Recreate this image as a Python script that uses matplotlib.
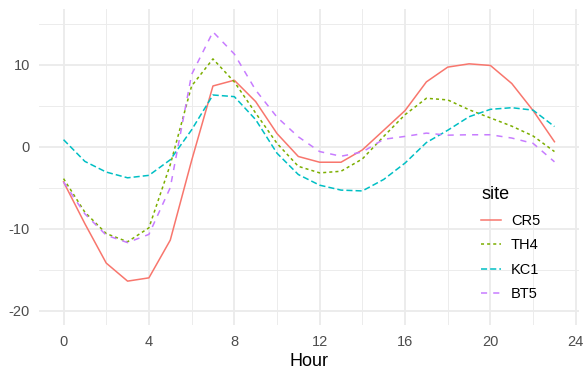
import matplotlib
matplotlib.use("Agg")
import matplotlib.pyplot as plt
from matplotlib.ticker import MultipleLocator

hours = list(range(24))
sites = ["CR5", "TH4", "KC1", "BT5"]
cr5 = [-4.3, -9.4, -14.2, -16.4, -16.0, -11.4, -1.7, 7.4, 8.1, 5.5, 1.6, -1.2,
       -1.9, -1.9, -0.4, 2.0, 4.4, 7.9, 9.7, 10.1, 9.9, 7.7, 4.4, 0.6]
th4 = [-3.9, -8.0, -10.6, -11.6, -9.9, -2.2, 7.4, 10.7, 7.9, 4.1, 0.4, -2.4,
       -3.2, -3.0, -1.5, 1.25, 3.9, 5.9, 5.7, 4.5, 3.5, 2.5, 1.3, -0.6]
kc1 = [0.85, -1.8, -3.1, -3.8, -3.5, -1.6, 2.05, 6.3, 6.1, 3.3, -0.8, -3.4,
       -4.7, -5.3, -5.4, -4.0, -2.0, 0.5, 2.0, 3.65, 4.55, 4.75, 4.45, 2.45]
bt5 = [-4.3, -8.2, -10.8, -11.7, -10.7, -5.0, 8.8, 14.0, 11.3, 6.9, 3.6, 1.2,
       -0.6, -1.17, -0.65, 0.9, 1.25, 1.65, 1.4, 1.45, 1.45, 1.05, 0.4, -1.85]
series = [cr5, th4, kc1, bt5]
colors = ["#F8766D", "#7CAE00", "#00BFC4", "#C77CFF"]
styles = ["-", (0, (2, 2)), (0, (4, 2)), (0, (4, 4))]
x_ticks = [0, 4, 8, 12, 16, 20, 24]
y_ticks = [-20, -10, 0, 10]

plt.rcParams["font.family"] = ["Liberation Sans", "DejaVu Sans"]
plt.rcParams["axes.unicode_minus"] = False

fig = plt.figure(figsize=(5.86, 3.79), dpi=100)
ax = fig.add_axes([39/586, 1-325/379, 540/586, (325-9.3)/379])

for name, ys, c, ls in zip(sites, series, colors, styles):
    ax.plot(hours, ys, color=c, linestyle=ls, lw=1.1, label=name)

ax.set_xlim(-1.15, 24.15)
ax.set_ylim(-21.75, 16.75)
ax.set_xticks(x_ticks)
ax.set_yticks(y_ticks)
ax.xaxis.set_minor_locator(MultipleLocator(2))
ax.yaxis.set_minor_locator(MultipleLocator(5))
ax.grid(which="major", color="#EBEBEB", lw=1.3)
ax.grid(which="minor", color="#EBEBEB", lw=0.65)
ax.set_axisbelow(True)
for s in ax.spines.values():
    s.set_visible(False)
ax.tick_params(which="both", length=0)
ax.tick_params(axis="x", pad=7, labelsize=10.5, labelcolor="#4D4D4D")
ax.tick_params(axis="y", pad=6.5, labelsize=10.5, labelcolor="#4D4D4D")
ax.set_xlabel("Hour", fontsize=13, labelpad=3)

leg = ax.legend(title="site", loc="upper left",
                bbox_to_anchor=(471/586, 1-176/379), bbox_transform=fig.transFigure,
                frameon=False, fontsize=10.5, title_fontsize=13,
                handlelength=1.35, handletextpad=0.7, labelspacing=0.72,
                borderpad=0.2, alignment="left")

fig.savefig("out.png", dpi=100)
